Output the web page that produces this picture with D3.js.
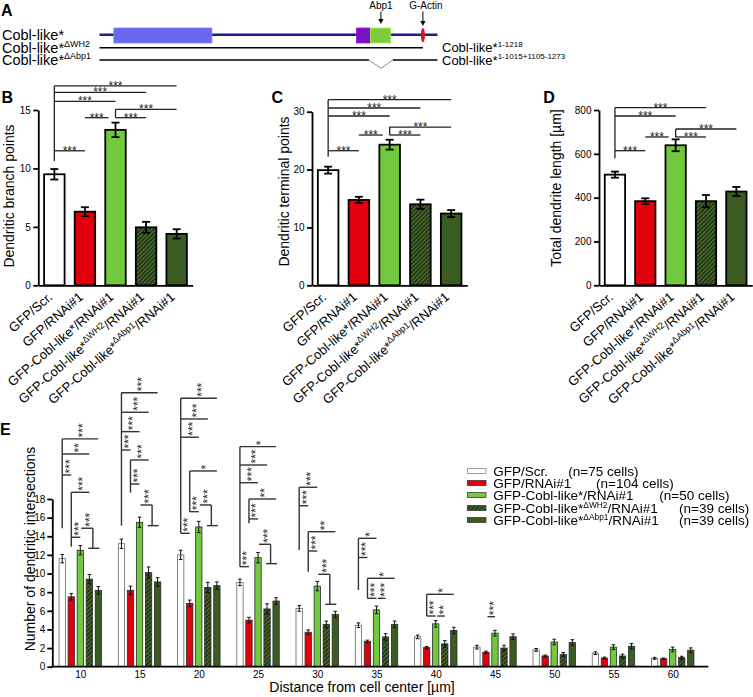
<!DOCTYPE html>
<html><head><meta charset="utf-8">
<script src="https://cdn.jsdelivr.net/npm/d3@7"></script>
<style>
body{margin:0;background:#fff;}
svg{display:block;font-family:"Liberation Sans",Arial,Helvetica,sans-serif;}
.vs{opacity:0.99;}
</style></head><body>
<svg id="fig" width="753" height="697"></svg>
<script>
// ---------------- DATA ----------------
const conditions = ["GFP/Scr.","GFP/RNAi#1","GFP-Cobl-like*/RNAi#1","GFP-Cobl-like*^ΔWH2^/RNAi#1","GFP-Cobl-like*^ΔAbp1^/RNAi#1"];
const cellCounts = ["(n=75 cells)","(n=104 cells)","(n=50 cells)","(n=39 cells)","(n=39 cells)"];

const branchMean = [9.5, 6.3, 13.3, 4.96, 4.4];
const branchErr  = [0.45, 0.38, 0.62, 0.47, 0.4];
const branchTicks = [0, 5, 10, 15];

const terminalMean = [19.9, 14.75, 24.3, 14.0, 12.4];
const terminalErr  = [0.6, 0.55, 0.85, 0.8, 0.6];
const terminalTicks = [0, 10, 20, 30];

const lengthMean = [505, 384, 639, 384, 428];
const lengthErr  = [14, 13, 27, 28, 21];
const lengthTicks = [0, 200, 400, 600, 800];

const distances = [10, 15, 20, 25, 30, 35, 40, 45, 50, 55, 60];
const shollScr   = [11.6, 13.2, 12.0, 9.05, 6.25, 4.45, 3.2, 2.1, 1.8, 1.45, 0.9];
const shollRNAi  = [7.5, 8.2, 6.8, 5.0, 3.7, 2.7, 2.05, 1.55, 1.15, 0.93, 0.85];
const shollCobl  = [12.5, 15.5, 15.0, 11.7, 8.65, 6.1, 4.6, 3.6, 2.65, 2.1, 1.85];
const shollWH2   = [9.4, 10.1, 8.5, 6.2, 4.55, 3.2, 2.45, 2.0, 1.33, 1.15, 0.97];
const shollAbp1  = [8.2, 9.1, 8.7, 7.05, 5.6, 4.55, 3.88, 3.22, 2.6, 2.2, 1.77];
const shollScrErr  = [0.45, 0.5, 0.5, 0.35, 0.3, 0.25, 0.2, 0.2, 0.15, 0.15, 0.1];
const shollRNAiErr = [0.35, 0.45, 0.35, 0.3, 0.25, 0.15, 0.12, 0.12, 0.1, 0.1, 0.08];
const shollCoblErr = [0.5, 0.55, 0.6, 0.55, 0.5, 0.4, 0.35, 0.3, 0.3, 0.25, 0.25];
const shollWH2Err  = [0.5, 0.6, 0.55, 0.55, 0.35, 0.35, 0.35, 0.3, 0.2, 0.2, 0.15];
const shollAbp1Err = [0.4, 0.45, 0.4, 0.35, 0.35, 0.35, 0.35, 0.3, 0.3, 0.3, 0.25];
const shollTicks = [0, 2, 4, 6, 8, 10, 12, 14, 16, 18];

// construct scheme (amino acids)
const proteinLength = 1273;
const constructNames = ["Cobl-like*", "Cobl-like*^ΔWH2^", "Cobl-like*^ΔAbp1^"];
const constructRanges = ["", "Cobl-like*^1-1218^", "Cobl-like*^1-1015+1105-1273^"];
const domainsA = [{s: 55, e: 424, c: "#6767ef"}, {s: 968, e: 1021, c: "#7a12c4"}, {s: 1021, e: 1097, c: "#7dcb3d"}];
const wh2Pos = 1218, abp1Pos = 1060, delStart = 1015, delEnd = 1105;

// significance (values in data units)
const sigB = {stems: [[0, 10.63, 17.07], [2, 14.34, 15.06]],
  lines: [[0,1,11.51,"***"],[0,2,15.74,"***"],[0,3,16.51,"***"],[0,4,17.07,"***"],[1,2,14.34,"***"],[2,3,14.34,"***"],[2,4,15.06,"***"]]};
const sigC = {stems: [[0, 22.22, 32.07], [2, 25.97, 27.35]],
  lines: [[0,1,23.26,"***"],[0,2,29.26,"***"],[0,3,30.64,"***"],[0,4,32.07,"***"],[1,2,25.97,"***"],[2,3,25.97,"***"],[2,4,27.35,"***"]]};
const sigD = {stems: [[0, 579.6, 810.6], [2, 676.9, 713.4]],
  lines: [[0,1,614.3,"***"],[0,2,772.7,"***"],[0,3,810.6,"***"],[1,2,676.9,"***"],[2,3,676.9,"***"],[2,4,713.4,"***"]]};
const sigE = [
 {d:10, stems:[[0,14.86,24.45],[1,12.88,18.72]], lines:[[0,4,24.45,"***"],[0,3,22.83,"**"],[0,1,20.58,"***"],[1,3,18.72,"***"],[1,2,13.89,"***"]], tee:[2,3,4,14.86,12.71,"***"]},
 {d:15, stems:[[0,15.14,29.41],[1,18.68,22.19]], lines:[[0,4,29.41,"***"],[0,3,27.31,"***"],[0,2,25.23,"***"],[0,1,23.26,"***"],[1,3,22.19,"***"],[1,2,19.61,"***"]], tee:[2,3,4,17.36,15.14,"***"]},
 {d:20, stems:[[0,14.32,28.81],[1,16.64,21.01]], lines:[[0,4,28.81,"***"],[0,3,26.59,"***"],[0,2,24.63,"***"],[0,1,14.32,"***"],[1,4,21.01,"*"],[1,2,16.64,"***"]], tee:[2,3,4,17.36,15.14,"***"]},
 {d:25, stems:[[0,10.74,23.62],[1,15.39,18.0]], lines:[[0,4,23.62,"*"],[0,3,21.65,"***"],[0,2,19.75,"***"],[0,1,10.74,"***"],[1,4,18.0,"**"],[1,2,15.86,"***"]], tee:[2,3,4,13.14,11.06,"***"]},
 {d:30, stems:[[0,12.53,19.26],[1,10.2,14.49]], lines:[[0,2,19.26,"***"],[0,1,17.28,"***"],[1,4,14.49,"**"],[1,2,12.42,"***"]], tee:[2,3,4,9.92,6.7,"***"]},
 {d:35, stems:[[0,8.23,13.78],[1,7.34,9.49]], lines:[[0,2,13.78,"*"],[0,1,11.72,"***"],[1,4,9.49,"*"],[1,2,7.34,"***"],[2,3,7.34,"***"]]},
 {d:40, stems:[[1,5.44,7.77]], lines:[[1,4,7.77,"*"],[1,2,5.44,"***"],[2,3,5.44,"**"]]},
 {d:45, stems:[], lines:[[1,2,5.37,"***"]]}
];

// ---------------- STYLE / HELPERS ----------------
const FONT = '"Liberation Sans", Arial, Helvetica, sans-serif';
const fills = ["#ffffff", "#e1000b", "#72c83e", "url(#hatch)", "#3a5b21"];
const svg = d3.select("#fig").attr("font-family", FONT);
const defs = svg.append("defs");
const pat = defs.append("pattern").attr("id","hatch").attr("patternUnits","userSpaceOnUse")
  .attr("width",3).attr("height",3).attr("patternTransform","rotate(45)");
pat.append("rect").attr("width",3).attr("height",3).attr("fill","#4b6d2d");
pat.append("line").attr("x1",0.7).attr("y1",0).attr("x2",0.7).attr("y2",3).attr("stroke","#15260a").attr("stroke-width",1.3);

function rich(t, str, fs, supK) {
  const k = supK || 0.62;
  const parts = str.split("^");
  let shift = 0;
  parts.forEach((p, i) => {
    if (!p) return;
    const ts = t.append("tspan").text(p);
    if (i % 2 === 1) { ts.attr("font-size", fs*k).attr("dy", -fs*0.4); shift = fs*0.4; }
    else if (shift) { ts.attr("dy", shift); shift = 0; }
  });
  return t;
}
function seg(g, x1, y1, x2, y2, w, c) {
  g.append("line").attr("x1",x1).attr("y1",y1).attr("x2",x2).attr("y2",y2)
   .attr("stroke", c || "#222").attr("stroke-width", w || 1.3);
}
const STAR = 12;

// ---------------- PANEL A ----------------
(function(){
  const g = svg.append("g");
  const aa = d3.scaleLinear().domain([1, proteinLength]).range([99.5, 437.5]);
  const rows = [34.7, 47.7, 60];
  g.append("text").attr("x",1).attr("y",16).attr("font-size",16).attr("font-weight","bold").text("A");
  constructNames.forEach((n,i)=> rich(g.append("text").attr("x",2).attr("y",rows[i]+5).attr("font-size",14.5), n, 14.5));
  constructRanges.forEach((n,i)=> { if (n) rich(g.append("text").attr("x",442).attr("y",rows[i]+4.5).attr("font-size",13), n, 13); });
  seg(g, aa(1), rows[0], aa(proteinLength), rows[0], 2.4, "#1d1d8c");
  domainsA.forEach(d => g.append("rect").attr("x",aa(d.s)).attr("y",28).attr("width",aa(d.e)-aa(d.s)).attr("height",15)
    .attr("fill",d.c).attr("stroke", d3.color(d.c).brighter(0.6)).attr("stroke-width",0.8));
  g.append("ellipse").attr("cx",aa(wh2Pos)).attr("cy",rows[0]+0.5).attr("rx",2).attr("ry",7.3).attr("fill","#e3101c");
  seg(g, aa(1), rows[1], aa(wh2Pos), rows[1], 1.6, "#000");
  seg(g, aa(1), rows[2], aa(delStart), rows[2], 1.6, "#000");
  g.append("path").attr("d",`M${aa(delStart)},${rows[2]}L${aa(abp1Pos)},${rows[2]+8.3}L${aa(delEnd)},${rows[2]}`)
    .attr("fill","none").attr("stroke","#8a8a8a").attr("stroke-width",1);
  seg(g, aa(delEnd), rows[2], aa(proteinLength), rows[2], 1.6, "#000");
  [[abp1Pos,"Abp1",0,24],[wh2Pos,"G-Actin",3,26]].forEach(([p,lab,dx,tip])=>{
    const x = aa(p);
    g.append("text").attr("x",x+dx).attr("y",9).attr("text-anchor","middle").attr("font-size",10).text(lab);
    seg(g, x, 11.5, x, tip-4, 1, "#000");
    g.append("path").attr("d",`M${x-2.6},${tip-5}L${x+2.6},${tip-5}L${x},${tip}Z`).attr("fill","#000");
  });
})();

// ---------------- PANELS B, C, D ----------------
function barPanel(p) {
  const g = svg.append("g");
  const x = d3.scaleBand().domain(d3.range(conditions.length)).range(p.xr).paddingInner(0.33).paddingOuter(0.19);
  const y = d3.scaleLinear().domain([0, p.max]).range(p.yr);
  const cx = i => x(i) + x.bandwidth()/2;
  g.selectAll("rect.bar").data(p.means).join("rect").attr("class","bar")
    .attr("x",(d,i)=>x(i)).attr("y",d=>y(d)).attr("width",x.bandwidth()).attr("height",d=>y(0)-y(d))
    .attr("fill",(d,i)=>fills[i]).attr("stroke","#000").attr("stroke-width",1.8);
  p.means.forEach((m,i)=>{
    const e = p.errs[i];
    seg(g, cx(i), y(m-e), cx(i), y(m+e), 1.8, "#000");
    seg(g, cx(i)-4, y(m-e), cx(i)+4, y(m-e), 1.8, "#000");
    seg(g, cx(i)-4, y(m+e), cx(i)+4, y(m+e), 1.8, "#000");
  });
  g.append("g").attr("transform",`translate(${p.xr[0]},0)`)
    .call(d3.axisLeft(y).tickValues(p.ticks).tickSize(5).tickSizeOuter(0).tickPadding(2.5))
    .call(a=>a.selectAll("text").attr("font-size",10).attr("font-family",FONT).attr("fill","#000"))
    .call(a=>a.selectAll("path,line").attr("stroke","#000").attr("stroke-width",1.8));
  g.append("g").attr("transform",`translate(0,${p.yr[0]})`)
    .call(d3.axisBottom(x).tickSize(0).tickFormat("").tickSizeOuter(0))
    .call(a=>a.selectAll("path").attr("stroke","#000").attr("stroke-width",1.8));
  conditions.forEach((c,i)=>{
    const t = g.append("text").attr("text-anchor","end").attr("font-size",13)
      .attr("transform",`translate(${cx(i)-1},${p.yr[0]+13}) rotate(-41)`);
    rich(t, c, 13, 0.7);
  });
  g.append("text").attr("transform",`translate(${p.ylx},${p.yly}) rotate(-90)`)
    .attr("text-anchor","middle").attr("font-size",14).text(p.ylabel);
  g.append("text").attr("x",p.lx).attr("y",103.3).attr("font-size",16).attr("font-weight","bold").text(p.letter);
  const stemMap = new Map(p.sig.stems.map(s=>[s[0], s]));
  p.sig.stems.forEach(([b,v0,v1]) => seg(g, cx(b), y(v0), cx(b), y(v1), 1.3));
  p.sig.lines.forEach(([a,b,v,s]) => {
    const x1 = cx(a);
    let x2 = cx(b);
    if (stemMap.has(b) && Math.abs(stemMap.get(b)[1]-v) < 0.01) x2 -= 7;
    seg(g, x1, y(v), x2, y(v), 1.3);
    g.append("text").attr("x",(x1+x2)/2).attr("y",y(v)+3.9).attr("text-anchor","middle")
      .attr("font-size",STAR).attr("fill","#222").text(s);
  });
}
barPanel({xr:[38.3,192.7], yr:[285.3,110], max:15, ticks:branchTicks, means:branchMean, errs:branchErr,
  ylabel:"Dendritic branch points", ylx:13.5, yly:196, letter:"B", lx:1.5, sig:sigB});
barPanel({xr:[312,467.3], yr:[285.3,111.7], max:30, ticks:terminalTicks, means:terminalMean, errs:terminalErr,
  ylabel:"Dendritic terminal points", ylx:288.5, yly:191.5, letter:"C", lx:271.5, sig:sigC});
barPanel({xr:[599,752.3], yr:[285.3,110], max:800, ticks:lengthTicks, means:lengthMean, errs:lengthErr,
  ylabel:"Total dendrite length [µm]", ylx:561, yly:188, letter:"D", lx:543.3, sig:sigD});

// ---------------- PANEL E ----------------
(function(){
  const g = svg.append("g");
  const series = [shollScr, shollRNAi, shollCobl, shollWH2, shollAbp1];
  const errs = [shollScrErr, shollRNAiErr, shollCoblErr, shollWH2Err, shollAbp1Err];
  const x = d3.scalePoint().domain(distances).range([80.3, 672.7]);
  const sub = d3.scaleBand().domain(d3.range(5)).range([-22.6, 22.6]).paddingInner(0.3).paddingOuter(0.15);
  const y = d3.scaleLinear().domain([0, 18]).range([666.7, 499]);
  const cx = (d, s) => x(d) + sub(s) + sub.bandwidth()/2;
  const flat = distances.flatMap((d,gi)=> series.map((arr,si)=>({d, si, v:arr[gi], e:errs[si][gi]})));
  g.selectAll("rect.eb").data(flat).join("rect").attr("class","eb")
    .attr("x",o=>x(o.d)+sub(o.si)).attr("y",o=>y(o.v)).attr("width",sub.bandwidth()).attr("height",o=>y(0)-y(o.v))
    .attr("fill",o=>fills[o.si]).attr("stroke",o=>o.si===0?"#666":"#2a2a2a").attr("stroke-width",0.8);
  flat.forEach(o=>{
    const c = cx(o.d, o.si);
    seg(g, c, y(o.v-o.e), c, y(o.v+o.e), 1, "#111");
    seg(g, c-1.8, y(o.v+o.e), c+1.8, y(o.v+o.e), 1, "#111");
    seg(g, c-1.8, y(o.v-o.e), c+1.8, y(o.v-o.e), 1, "#111");
  });
  g.append("g").attr("transform","translate(52.3,0)")
    .call(d3.axisLeft(y).tickValues(shollTicks).tickSize(5).tickSizeOuter(0).tickPadding(2))
    .call(a=>a.selectAll("text").attr("font-size",10).attr("font-family",FONT).attr("fill","#000"))
    .call(a=>a.selectAll("path,line").attr("stroke","#000").attr("stroke-width",1.8));
  g.append("g").attr("transform","translate(0,666.7)")
    .call(d3.axisBottom(x).tickSize(0).tickPadding(4.5))
    .call(a=>a.select(".domain").remove())
    .call(a=>a.selectAll("text").attr("font-size",10).attr("font-family",FONT).attr("fill","#000"));
  seg(g, 51.4, 666.7, 708.3, 666.7, 1.8, "#000");
  g.append("text").attr("x",362).attr("y",692).attr("text-anchor","middle").attr("font-size",14).text("Distance from cell center [µm]");
  g.append("text").attr("transform","translate(35,549) rotate(-90)").attr("text-anchor","middle").attr("font-size",14).text("Number of dendritic intersections");
  g.append("text").attr("x",0).attr("y",435).attr("font-size",16).attr("font-weight","bold").text("E");
  const sg = g.append("g").attr("class","vs");
  const vstar = (xm, yl, s) => sg.append("text").attr("transform",`translate(${xm+0.573*STAR},${yl-1.5}) rotate(-90)`)
      .attr("font-size",STAR).attr("fill","#222").text(s);
  sigE.forEach(sp=>{
    const stemMap = new Map(sp.stems.map(s=>[s[0], s]));
    sp.stems.forEach(([s,v0,v1]) => seg(g, cx(sp.d,s), y(v0), cx(sp.d,s), y(v1), 1.4, "#333"));
    sp.lines.forEach(([a,b,v,s])=>{
      const x1 = cx(sp.d,a) + (stemMap.has(a) ? 0 : 1.5);
      const x2 = cx(sp.d,b);
      seg(g, x1, y(v), x2, y(v), 1.4, "#333");
      vstar((x1+x2)/2, y(v), s);
    });
    if (sp.tee) {
      const [f,a,b,vt,vf,s] = sp.tee;
      const xv = (cx(sp.d,a)+cx(sp.d,b))/2 - 1;
      const x1 = cx(sp.d,f) + 1;
      seg(g, x1, y(vt), xv, y(vt), 1.4, "#333");
      seg(g, xv, y(vt), xv, y(vf), 1.4, "#333");
      seg(g, cx(sp.d,a)-1, y(vf), cx(sp.d,b)+1, y(vf), 1.4, "#333");
      vstar((x1+xv)/2, y(vt), s);
    }
  });
  const legY = [471, 483, 495, 508, 520];
  const nX = [568.3, 596, 659.3, 679, 679];
  conditions.forEach((c,i)=>{
    g.append("rect").attr("x",467.3).attr("y",legY[i]-2.6).attr("width",18.7).attr("height",5.2)
      .attr("fill",fills[i]).attr("stroke",i===0?"#777":"#333").attr("stroke-width",0.7);
    rich(g.append("text").attr("x",493.3).attr("y",legY[i]+5).attr("font-size",13.5), c, 13.5);
    g.append("text").attr("x",nX[i]).attr("y",legY[i]+5).attr("font-size",13.5).text(cellCounts[i]);
  });
})();
</script></body></html>
